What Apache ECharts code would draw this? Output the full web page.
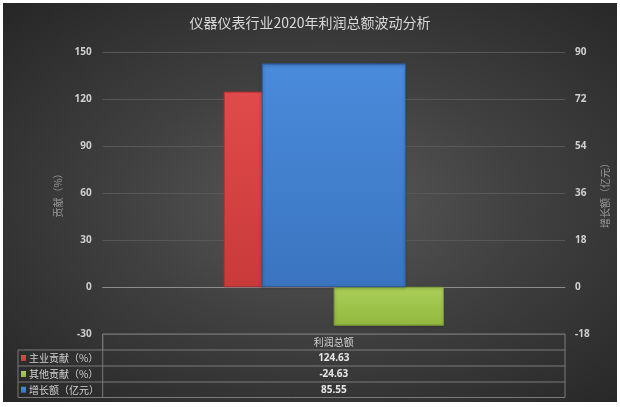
<!DOCTYPE html>
<html>
<head>
<meta charset="utf-8">
<script src="https://cdn.jsdelivr.net/npm/echarts@6/dist/echarts.min.js"></script>
<style>
  html, body { margin: 0; padding: 0; background: #fff; }
  #wrap { position: relative; width: 620px; height: 407px; }
  #bg { position: absolute; left: 3px; top: 3px; width: 614px; height: 399px;
        background: radial-gradient(ellipse farthest-corner at 52% 50%, #5a5a5a 0%, #404040 45%, #262626 100%); }
  #main { position: absolute; left: 0; top: 0; width: 620px; height: 407px; }
</style>
</head>
<body>
<div id="wrap"><div id="bg"></div><div id="main"></div></div>
<script>
var categories = ['利润总额'];
var mainShare = [124.63];     // 主业贡献（%）
var otherShare = [-24.63];    // 其他贡献（%）
var growth = [85.55];         // 增长额（亿元）
var seriesNames = ['主业贡献（%）', '其他贡献（%）', '增长额（亿元）'];
var leftTicks = { min: -30, max: 150, interval: 30 };
var rightTicks = { min: -18, max: 90, interval: 18 };

var colRed = ['#e04a4a', '#c93a3a'];
var colGreen = ['#abcf58', '#92b83f'];
var colBlue = ['#4a8bdb', '#3a74c0'];

function grad(c) {
  return new echarts.graphic.LinearGradient(0, 0, 0, 1, [
    { offset: 0, color: c[0] }, { offset: 1, color: c[1] }
  ]);
}

var myChart = echarts.init(document.getElementById('main'));

var option = {
  backgroundColor: 'transparent',
  animation: false,
  title: {
    text: '仪器仪表行业2020年利润总额波动分析',
    left: 'center',
    top: 11,
    textStyle: { color: '#d9d9d9', fontSize: 14, fontWeight: 'normal', fontFamily: 'Noto Sans CJK SC' }
  },
  grid: { left: 102.7, right: 55, top: 52, bottom: 73 },
  xAxis: [
    {
      type: 'category', data: categories,
      axisLine: { onZero: true, lineStyle: { color: '#8c8c8c', width: 1 } },
      axisTick: { show: false },
      axisLabel: { show: false }
    },
    { type: 'category', data: categories, show: false }
  ],
  yAxis: [
    {
      type: 'value', min: leftTicks.min, max: leftTicks.max, interval: leftTicks.interval,
      name: '贡献（%）', nameLocation: 'middle', nameRotate: 90, nameGap: 34,
      nameTextStyle: { color: '#9a9a9a', fontSize: 10, fontFamily: 'Noto Sans CJK SC' },
      axisLine: { show: false }, axisTick: { show: false },
      axisLabel: { color: '#d0d0d0', fontSize: 10, fontWeight: 'bold', margin: 11, fontFamily: 'Noto Sans' },
      splitLine: { lineStyle: { color: '#585858', width: 1 } }
    },
    {
      type: 'value', min: rightTicks.min, max: rightTicks.max, interval: rightTicks.interval,
      name: '增长额（亿元）', nameLocation: 'middle', nameRotate: 90, nameGap: 32,
      nameTextStyle: { color: '#9a9a9a', fontSize: 10, fontFamily: 'Noto Sans CJK SC' },
      axisLine: { show: false }, axisTick: { show: false },
      axisLabel: { color: '#d0d0d0', fontSize: 10, fontWeight: 'bold', margin: 10, fontFamily: 'Noto Sans' },
      splitLine: { show: false }
    }
  ],
  series: [
    {
      name: seriesNames[0], type: 'bar', xAxisIndex: 0, yAxisIndex: 0,
      data: mainShare, barWidth: 110, barGap: '0%', z: 2,
      itemStyle: { color: grad(colRed), borderColor: '#a83030', borderWidth: 0.6 }
    },
    {
      name: seriesNames[1], type: 'bar', xAxisIndex: 0, yAxisIndex: 0,
      data: otherShare, barWidth: 110, barGap: '0%', z: 2,
      itemStyle: { color: grad(colGreen), borderColor: '#7a9a35', borderWidth: 0.6,
                   shadowColor: 'rgba(0,0,0,0.35)', shadowBlur: 3, shadowOffsetY: 1 }
    },
    {
      name: seriesNames[2], type: 'bar', xAxisIndex: 1, yAxisIndex: 1,
      data: growth, barWidth: 144, z: 3,
      itemStyle: { color: grad(colBlue), borderColor: '#2c5d9c', borderWidth: 0.8,
                   shadowColor: 'rgba(0,0,0,0.35)', shadowBlur: 3, shadowOffsetY: 1 }
    }
  ]
};

myChart.setOption(option);

// data table under the plot
var tableLeft = 18, colX = 102.7, tableRight = 565;
var rowY = [334, 350, 366, 382, 397.5];
var cx = myChart.convertToPixel({ xAxisIndex: 0 }, categories[0]);
var lineCol = '#7a7a7a';
var values = [mainShare[0], otherShare[0], growth[0]];
var keyCols = [colRed, colGreen, colBlue];
var g = [];

// header row
g.push({ type: 'polyline', shape: { points: [[colX, rowY[1]], [colX, rowY[0]], [tableRight, rowY[0]], [tableRight, rowY[4]]] },
         style: { stroke: lineCol, fill: null, lineWidth: 1 } });
g.push({ type: 'line', shape: { x1: tableLeft, y1: rowY[1], x2: tableRight, y2: rowY[1] }, style: { stroke: lineCol, lineWidth: 1 } });
g.push({ type: 'text', x: cx, y: (rowY[0] + rowY[1]) / 2,
         style: { text: categories[0], fill: '#d0d0d0', fontSize: 10, fontFamily: 'Noto Sans CJK SC', align: 'center', verticalAlign: 'middle' } });

for (var i = 0; i < 3; i++) {
  var y0 = rowY[i + 1], y1 = rowY[i + 2], ym = (y0 + y1) / 2;
  g.push({ type: 'line', shape: { x1: tableLeft, y1: y1, x2: tableRight, y2: y1 }, style: { stroke: lineCol, lineWidth: 1 } });
  g.push({ type: 'rect', shape: { x: 21, y: ym - 3, width: 5, height: 6 }, style: { fill: grad(keyCols[i]) } });
  g.push({ type: 'text', x: 29, y: ym,
           style: { text: seriesNames[i], fill: '#d0d0d0', fontSize: 10, fontFamily: 'Noto Sans CJK SC', verticalAlign: 'middle' } });
  g.push({ type: 'text', x: cx, y: ym,
           style: { text: String(values[i]), fill: '#e6e6e6', fontSize: 10, fontWeight: 'bold', fontFamily: 'Noto Sans', align: 'center', verticalAlign: 'middle' } });
}
g.push({ type: 'line', shape: { x1: tableLeft, y1: rowY[1], x2: tableLeft, y2: rowY[4] }, style: { stroke: lineCol, lineWidth: 1 } });
g.push({ type: 'line', shape: { x1: colX, y1: rowY[0], x2: colX, y2: rowY[4] }, style: { stroke: lineCol, lineWidth: 1 } });

myChart.setOption({ graphic: { elements: g } });
</script>
</body>
</html>
